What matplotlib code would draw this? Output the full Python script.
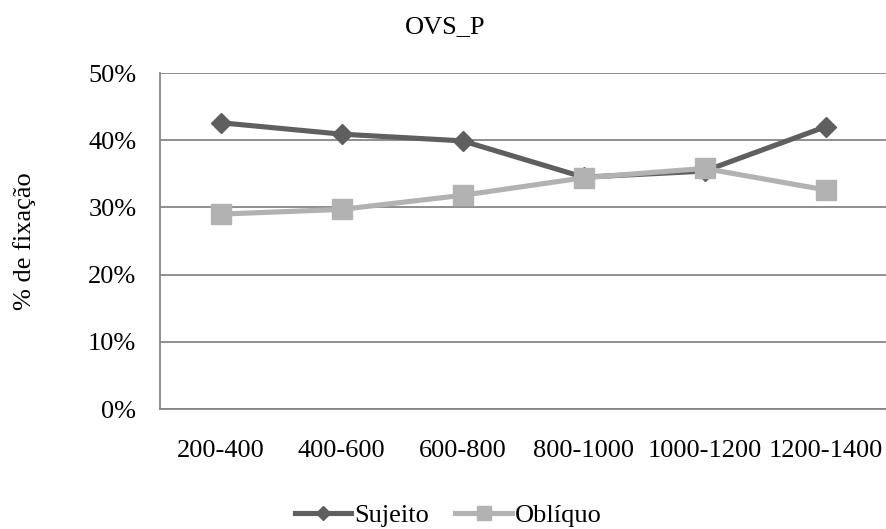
import matplotlib
matplotlib.use('Agg')
import matplotlib.pyplot as plt
from matplotlib.ticker import FuncFormatter

# Data
categories = ['200-400', '400-600', '600-800', '800-1000', '1000-1200', '1200-1400']
sujeito = [42.6, 40.9, 39.9, 34.5, 35.4, 42.0]
obliquo = [29.0, 29.7, 31.8, 34.4, 35.8, 32.6]
y_ticks = [0, 10, 20, 30, 40, 50]

plt.rcParams['font.family'] = ['Liberation Serif', 'DejaVu Serif']
font_size = 19

fig = plt.figure(figsize=(8.86, 5.29), dpi=100)
axes = fig.add_axes([160 / 886, 1 - 409 / 529, 726 / 886, 336 / 529])

x = list(range(len(categories)))
axes.plot(x, sujeito, color='#5f5f5f', lw=3.7, marker='D', ms=10.5, label='Sujeito', zorder=3)
axes.plot(x, obliquo, color='#b2b2b2', lw=3.7, marker='s', ms=14, label='Oblíquo', zorder=4)

axes.set_xlim(-0.5, len(categories) - 0.5)
axes.set_ylim(0, 50)
axes.set_yticks(y_ticks)
axes.yaxis.set_major_formatter(FuncFormatter(lambda v, p: '{:.0f}%'.format(v)))
axes.set_xticks(x)
axes.set_xticklabels(categories)
axes.tick_params(axis='both', length=0, labelsize=font_size, colors='#000000')
axes.tick_params(axis='y', pad=17)
axes.tick_params(axis='x', pad=22)

axes.grid(axis='y', color='#868686', lw=1.3)
axes.set_axisbelow(True)
for side in ['top', 'right']:
    axes.spines[side].set_visible(False)
for side in ['left', 'bottom']:
    axes.spines[side].set_color('#868686')
    axes.spines[side].set_linewidth(1.3)

# Labels and title
fig.text(25 / 886, 1 - 241 / 529, '% de fixação', rotation=90, ha='center', va='center', fontsize=font_size)
fig.text(445 / 886, 1 - 27 / 529, 'OVS_P', ha='center', va='center', fontsize=font_size)

fig.legend(loc='center', bbox_to_anchor=(448 / 886, 1 - 515 / 529), ncol=2, frameon=False,
           fontsize=font_size, handlelength=2.15, handletextpad=0.1, columnspacing=1.0,
           markerscale=0.72, borderpad=0)

fig.savefig('out.png', dpi=100)
plt.close()
